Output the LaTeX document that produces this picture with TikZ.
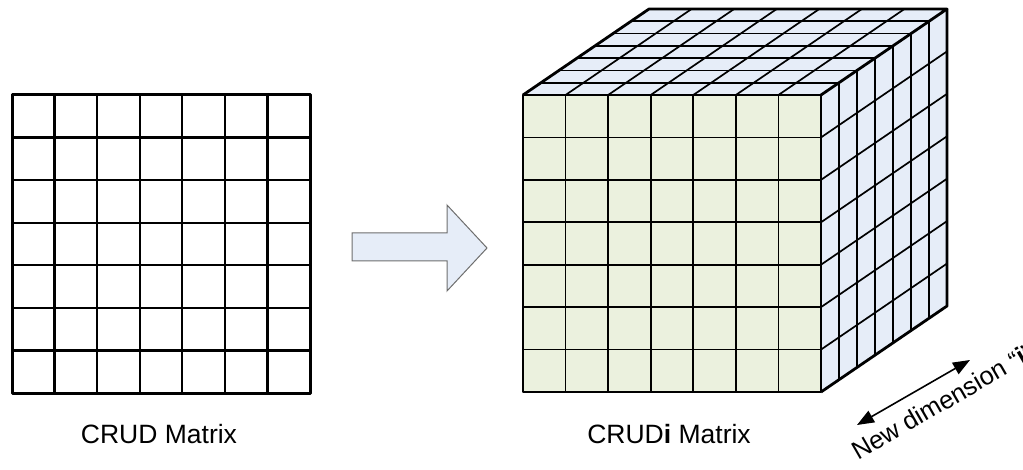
\documentclass[tikz,border=0pt]{standalone}
\usepackage{fontspec}
\setmainfont{Liberation Sans}
\usetikzlibrary{arrows.meta}
\definecolor{facegreen}{RGB}{235,241,222}
\definecolor{faceblue}{RGB}{230,237,248}
\definecolor{arrowgrey}{RGB}{110,110,110}
\tikzset{
  gridline/.style={line width=2.3pt,black},
  outerline/.style={line width=2.8pt,black,line join=round},
  inner/.style={line width=1.7pt,black},
  label/.style={font=\fontsize{26.5}{30}\selectfont,inner sep=0pt},
  dimlabel/.style={font=\fontsize{25.5}{30}\selectfont,inner sep=0pt},
  blockarrow/.style={draw=arrowgrey,fill=faceblue,line width=1pt,line join=miter},
  dimarrow/.style={line width=1.6pt,{Triangle[length=17pt,width=13pt]}-{Triangle[length=17pt,width=13pt]}}
}
\begin{document}
\begin{tikzpicture}[x=1pt,y=-1pt]
\useasboundingbox (0,0) rectangle (1023,470);
% ---------- left CRUD matrix ----------
\foreach \i in {1,...,6}{
  \pgfmathsetmacro{\xx}{12+298*\i/7}
  \pgfmathsetmacro{\yy}{95+298*\i/7}
  \draw[gridline] (\xx,95) -- (\xx,393);
  \draw[gridline] (12,\yy) -- (310,\yy);
}
\draw[outerline,line width=3pt] (12,95) rectangle (310,393);
% ---------- block arrow ----------
\draw[blockarrow] (352,233) -- (447,233) -- (447,205) -- (487,248) -- (447,291) -- (447,261) -- (352,261) -- cycle;
% ---------- cube ----------
% faces
\fill[faceblue] (523,95) -- (821,95) -- (947,9) -- (649,9) -- cycle;
\fill[faceblue] (821,95) -- (947,9) -- (947,306) -- (821,392) -- cycle;
\fill[facegreen] (523,95) rectangle (821,392);
% top face and side face depth lines
\foreach \k in {1,...,6}{
  \pgfmathsetmacro{\dx}{126*\k/7}
  \pgfmathsetmacro{\dy}{86*\k/7}
  \draw[inner] (523+\dx,95-\dy) -- (821+\dx,95-\dy);
  \draw[inner] (821+\dx,95-\dy) -- (821+\dx,392-\dy);
}
% column lines (front face and top face)
\foreach \j in {1,...,6}{
  \pgfmathsetmacro{\xx}{523+298*\j/7}
  \draw[inner] (\xx,95) -- (\xx+126,9);
  \draw[inner] (\xx,95) -- (\xx,392);
}
% row lines (front face and side face)
\foreach \i in {1,...,6}{
  \pgfmathsetmacro{\yy}{95+297*\i/7}
  \draw[inner] (523,\yy) -- (821,\yy);
  \draw[inner] (821,\yy) -- (947,\yy-86);
}
% outlines
\draw[outerline] (523,95) rectangle (821,392);
\draw[outerline] (523,95) -- (649,9) -- (947,9) -- (821,95);
\draw[outerline] (947,9) -- (947,306) -- (821,392);
% ---------- labels ----------
\node[label,anchor=base] (crud) at (159,443) {CRUD Matrix};
\node[label,anchor=base] (crudi) at (669,443) {CRUD\textbf{i} Matrix};
% ---------- new dimension arrow ----------
\coordinate (dA) at (857,425);
\coordinate (dB) at (970,360);
\draw[dimarrow] (dA) -- (dB);
\node[dimlabel,anchor=base west,rotate=30] (dimtext) at (858,461) {New dimension “\textbf{i}”};
\end{tikzpicture}
\end{document}
